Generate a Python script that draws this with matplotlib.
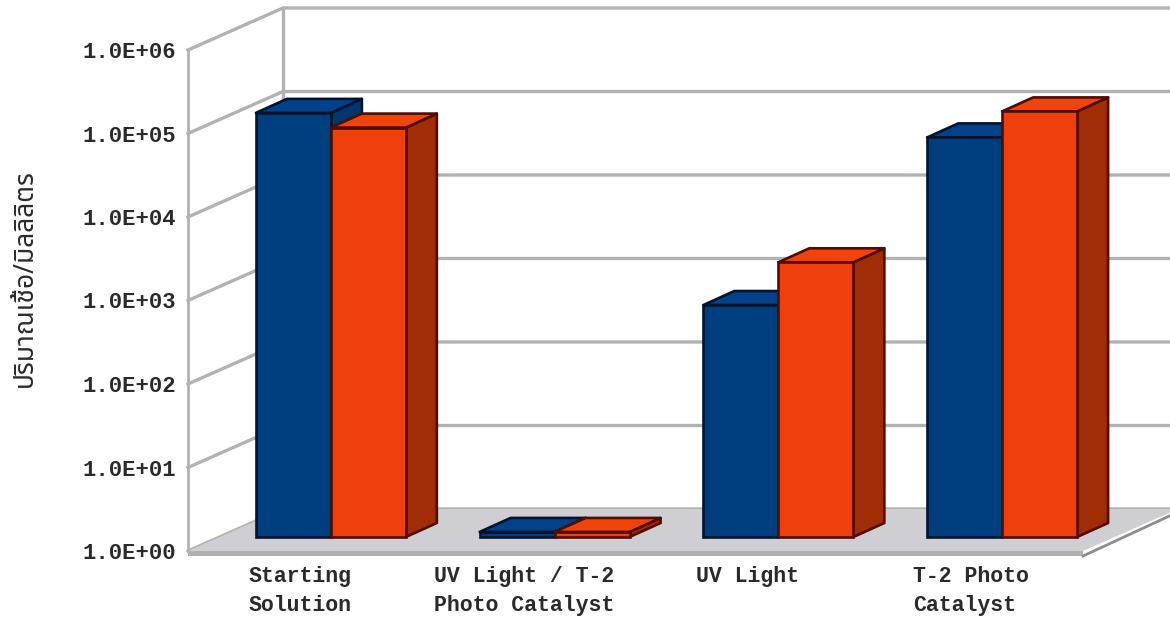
import matplotlib
matplotlib.use('Agg')
import numpy as np
import matplotlib.pyplot as plt
from matplotlib.patches import Polygon
from matplotlib.transforms import Affine2D, IdentityTransform

categories = ['Starting\nSolution', 'UV Light / T-2\nPhoto Catalyst', 'UV Light', 'T-2 Photo\nCatalyst']
series_blue = [120000, 1.15, 600, 61000]
series_orange = [80000, 1.15, 1950, 125000]
tick_values = [1, 10, 100, 1000, 10000, 100000, 1000000]
tick_labels = ['1.0E+00', '1.0E+01', '1.0E+02', '1.0E+03', '1.0E+04', '1.0E+05', '1.0E+06']
y_title = 'ปริมาณเชื้อ/มิลลิลิตร'

W, H = 1170, 621
# depth of the whole box in pixels, and of the bar row inside it
box_dx, box_dy = 95, 42
gap_dx, gap_dy = 31, 14
bar_dx, bar_dy = 31, 14
bar_w = 0.335

fig = plt.figure(figsize=(W / 100, H / 100), dpi=100, facecolor='white')
ax = fig.add_axes([188 / W, (H - 551) / H, 895 / W, 501 / H])
ax.set_yscale('log')
ax.set_xlim(-0.5, 3.5)
ax.set_ylim(1, 1000000)
for s in ax.spines.values():
    s.set_visible(False)
ax.patch.set_visible(False)


def px(x, y, dx=0, dy=0):
    p = ax.transData.transform((x, y))
    return (p[0] + dx, p[1] + dy)


def face(points, fc, ec='none', lw=0, z=1):
    ax.add_patch(Polygon(points, closed=True, facecolor=fc, edgecolor=ec, linewidth=lw,
                         transform=IdentityTransform(), clip_on=False, zorder=z, joinstyle='round'))


grid_c = '#b2b2b4'
x0, x1 = -0.5, 3.5

# floor and its front rim
face([px(x0, 1), px(x1, 1), px(x1, 1, box_dx, box_dy), px(x0, 1, box_dx, box_dy)], '#cfced2', z=1)
face([px(x0, 1), px(x1, 1), px(x1, 1, 0, -5), px(x0, 1, 0, -5)], '#b0afb3', z=1.1)
p1 = px(x1, 1, 0, -5)
p2 = px(x1, 1, box_dx, box_dy - 3)
ax.plot([p1[0], p2[0]], [p1[1], p2[1]], color='#8c8c90', lw=2, transform=IdentityTransform(), clip_on=False, zorder=1.2)

# walls
for v in tick_values:
    a = px(x0, v)
    b = px(x0, v, box_dx, box_dy)
    c = px(x1, v, box_dx, box_dy)
    ax.plot([a[0], b[0], c[0]], [a[1], b[1], c[1]], color=grid_c, lw=2.4,
            transform=IdentityTransform(), clip_on=False, zorder=0.8)
a = px(x0, 1)
b = px(x0, 1000000)
ax.plot([a[0], b[0]], [a[1], b[1]], color=grid_c, lw=2, transform=IdentityTransform(), clip_on=False, zorder=0.8)
a = px(x0, 1, box_dx, box_dy)
b = px(x0, 1000000, box_dx, box_dy)
ax.plot([a[0], b[0]], [a[1], b[1]], color=grid_c, lw=2.4, transform=IdentityTransform(), clip_on=False, zorder=0.8)

# bars
colors = [('#003f7f', '#00376f', '#034288', '#00132f'),
          ('#ee3f0c', '#a02d05', '#f0440a', '#500d00')]
offset = ax.transData + Affine2D().translate(gap_dx, gap_dy)
xpos = np.arange(len(categories))
edge_w = 1.9
z = 3
for i in range(len(categories)):
    for s, vals in enumerate([series_blue, series_orange]):
        front, side, top, edge = colors[s]
        left = xpos[i] - bar_w if s == 0 else xpos[i]
        right = left + bar_w
        v = vals[i]
        dx1, dy1 = gap_dx, gap_dy
        dx2, dy2 = gap_dx + bar_dx, gap_dy + bar_dy
        # side
        face([px(right, 1, dx1, dy1), px(right, 1, dx2, dy2), px(right, v, dx2, dy2), px(right, v, dx1, dy1)],
             side, edge, edge_w, z)
        # top
        face([px(left, v, dx1, dy1), px(right, v, dx1, dy1), px(right, v, dx2, dy2), px(left, v, dx2, dy2)],
             top, edge, edge_w, z + 0.1)
        ax.bar(left, v - 1, width=bar_w, bottom=1, align='edge', color=front, edgecolor=edge, linewidth=edge_w,
               transform=offset, clip_on=False, zorder=z + 0.2)
        z += 1
ax.set_xlim(-0.5, 3.5)
ax.set_ylim(1, 1000000)

ax.set_yticks(tick_values)
ax.set_yticklabels(tick_labels, family='Liberation Mono', fontweight='bold', fontsize=16, color='#2a2a2a')
ax.minorticks_off()
ax.set_xticks(xpos)
ax.set_xticklabels(categories, family='Liberation Mono', fontweight='bold', fontsize=15.5, color='#2a2a2a',
                   multialignment='left', linespacing=1.5)
ax.tick_params(axis='both', length=0)
ax.tick_params(axis='y', pad=8.5)
ax.tick_params(axis='x', pad=11)

fig.text(25 / W, (H - 278) / H, y_title, rotation=90, ha='center', va='center', fontsize=19, color='#2a2a2a',
         family=['Noto Sans Thai', 'Noto Sans', 'DejaVu Sans'])

fig.savefig('out.png', dpi=100, facecolor='white')
